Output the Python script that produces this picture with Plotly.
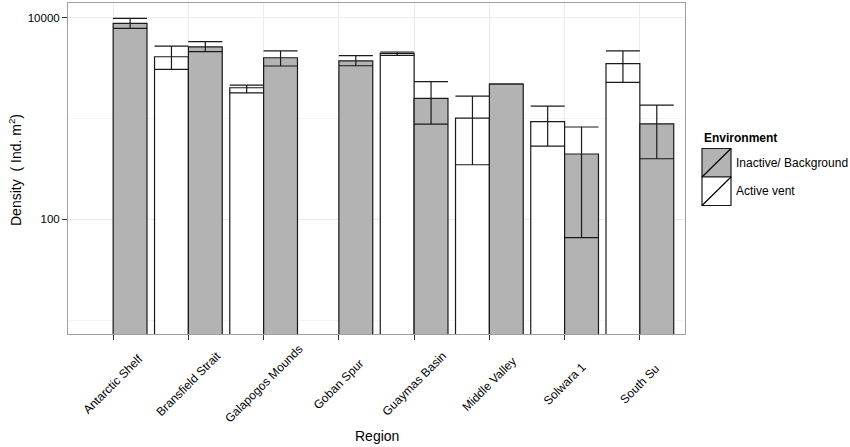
import plotly.graph_objects as go

# regions along the x axis
regiones = ["Antarctic Shelf", "Bransfield Strait", "Galapogos Mounds", "Goban Spur",
            "Guaymas Basin", "Middle Valley", "Solwara 1", "South Su"]

# Active vent: mean density and error bar ends (Ind. m-2)
activo_media = [None, 4100, 2020, None, 4420, 1010, 930, 3500]
activo_sup = [None, 5230, 2150, None, 4570, 1670, 1330, 4680]
activo_inf = [None, 3080, 1800, None, 4240, 348, 533, 2285]

# Inactive / background
inactivo_media = [8800, 5150, 4010, 3740, 1585, 2200, 445, 887]
inactivo_sup = [9870, 5780, 4680, 4200, 2320, None, 824, 1360]
inactivo_inf = [7850, 4600, 3320, 3340, 881, None, 66, 399]

gris = "#B3B3B3"
negro = "#1a1a1a"

# panel in pixels (for the hand-made legend and labels)
izq, der, arr, aba = 68, 685, 3, 334
ancho, alto = der - izq, aba - arr


def px_x(x):
    return (x - izq) / ancho


def px_y(y):
    return (aba - y) / alto


def errores(media, sup, inf):
    arriba = [s - m if (m is not None and s is not None) else None for m, s in zip(media, sup)]
    abajo = [m - i if (m is not None and i is not None) else None for m, i in zip(media, inf)]
    return arriba, abajo


fig = go.Figure()

for nombre, media, sup, inf, color in [
    ("Active vent", activo_media, activo_sup, activo_inf, "white"),
    ("Inactive/ Background", inactivo_media, inactivo_sup, inactivo_inf, gris),
]:
    arriba, abajo = errores(media, sup, inf)
    fig.add_trace(go.Bar(
        x=regiones, y=media, name=nombre,
        marker=dict(color=color, line=dict(color=negro, width=1.2)),
        error_y=dict(type="data", symmetric=False, array=arriba, arrayminus=abajo,
                     color=negro, thickness=1.2, width=17),
        showlegend=False,
    ))

# x tick labels, rotated and centred under each tick (like ggplot angle=45)
for r in regiones:
    fig.add_annotation(xref="x", yref="paper", x=r, y=px_y(384), xanchor="center", yanchor="middle",
                       text=r, textangle=-45, showarrow=False, font=dict(size=12, color="black"))

# axis titles
fig.add_annotation(xref="paper", yref="paper", x=0.5, y=px_y(436), xanchor="center", yanchor="middle",
                   text="Region", showarrow=False, font=dict(size=14, color="black"))
fig.add_annotation(xref="paper", yref="paper", x=px_x(15), y=px_y(170), xanchor="center", yanchor="middle",
                   text="Density  ( Ind. m<sup>2</sup>)", textangle=-90, showarrow=False,
                   font=dict(size=14, color="black"))

# custom legend (boxes with diagonal, like ggplot keys)
fig.add_annotation(xref="paper", yref="paper", x=px_x(702), y=px_y(138), xanchor="left", yanchor="middle",
                   text="<b>Environment</b>", showarrow=False, font=dict(size=12, color="black"))
claves = [("Inactive/ Background", gris), ("Active vent", "white")]
for k, (texto, color) in enumerate(claves):
    y0 = 148.5 + 28.5 * k
    y1 = y0 + 28.5
    fig.add_shape(type="rect", xref="paper", yref="paper",
                  x0=px_x(702), x1=px_x(731), y0=px_y(y1), y1=px_y(y0),
                  fillcolor=color, line=dict(color=negro, width=1.2))
    fig.add_shape(type="line", xref="paper", yref="paper",
                  x0=px_x(702), x1=px_x(731), y0=px_y(y1), y1=px_y(y0),
                  line=dict(color="black", width=1.2))
    fig.add_annotation(xref="paper", yref="paper", x=px_x(734), y=px_y((y0 + y1) / 2),
                       xanchor="left", yanchor="middle", text=texto, showarrow=False,
                       font=dict(size=12, color="black"))

fig.update_layout(
    width=850, height=447,
    margin=dict(l=izq, r=850 - der, t=arr, b=447 - aba),
    barmode="group", bargap=0.1, bargroupgap=0,
    plot_bgcolor="white", paper_bgcolor="white",
    font=dict(family="Liberation Sans, Arial, sans-serif", color="black"),
)

fig.update_xaxes(
    type="category", range=[-0.6, 7.6], automargin=False,
    showticklabels=False,
    showgrid=True, gridcolor="#EBEBEB", gridwidth=1,
    ticks="outside", ticklen=5, tickcolor="#333333",
    showline=True, linecolor="#A0A0A0", mirror=True,
)

fig.update_yaxes(
    type="log", range=[0.863, 4.146], automargin=False,
    tickvals=[100, 10000], ticktext=["100", "10000"],
    showgrid=True, gridcolor="#EBEBEB", gridwidth=1,
    minor=dict(tickvals=[10, 1000], showgrid=True, gridcolor="#F5F5F5", ticklen=0),
    ticks="outside", ticklen=5, tickcolor="#333333",
    tickfont=dict(size=11.5, color="black"),
    showline=True, linecolor="#A0A0A0", mirror=True, zeroline=False,
)

# quitar el margen del body para que la figura quede en la esquina
fig.write_html("out.html", config={"displayModeBar": False},
               post_script="document.body.style.margin='0px';")
